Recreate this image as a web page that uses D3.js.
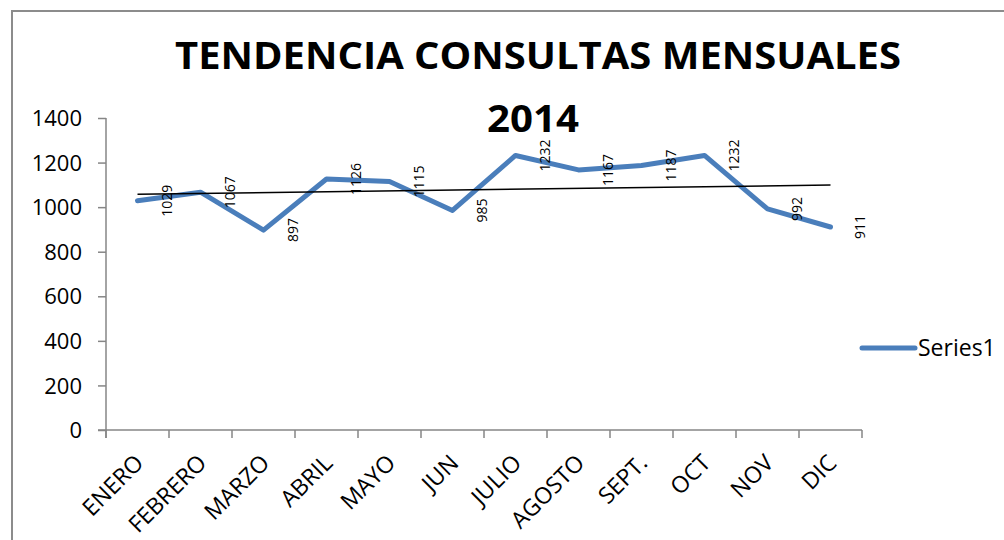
<!DOCTYPE html>
<html><head><meta charset="utf-8">
<script src="https://cdn.jsdelivr.net/npm/d3@7"></script>
<style>
html,body{margin:0;padding:0;background:#fff;}
svg{display:block;}
text{font-family:"Open Sans",sans-serif;fill:#000;}
</style></head>
<body>
<svg id="chart" width="1004" height="540"></svg>
<script>
const months = ["ENERO","FEBRERO","MARZO","ABRIL","MAYO","JUN","JULIO","AGOSTO","SEPT.","OCT","NOV","DIC"];
const consultas = [1029,1067,897,1126,1115,985,1232,1167,1187,1232,992,911];
const yTicks = [0,200,400,600,800,1000,1200,1400];
const seriesName = "Series1";
const titleLines = ["TENDENCIA CONSULTAS MENSUALES","2014"];

(function(){
const svg = d3.select("#chart");
// outer border
svg.append("rect").attr("x",12).attr("y",11).attr("width",1100).attr("height",600)
  .attr("fill","none").attr("stroke","#8c8c8c").attr("stroke-width",2);

const pLeft=106, pRight=862, pTop=118, pBottom=430;
const x = d3.scaleBand().domain(months).range([pLeft,pRight]).paddingInner(0).paddingOuter(0);
const y = d3.scaleLinear().domain([0,1400]).range([pBottom,pTop]);
const cx = m => x(m)+x.bandwidth()/2;
const axisColor="#868686";

// y axis
const ya = svg.append("g").attr("transform",`translate(${pLeft},0)`)
  .call(d3.axisLeft(y).tickValues(yTicks).tickSize(8).tickPadding(16).tickFormat(d3.format("d")));
ya.select(".domain").attr("stroke",axisColor).attr("stroke-width",1.5).attr("d",`M0,${pTop}V${pBottom+8}`);
ya.selectAll(".tick line").attr("stroke",axisColor).attr("stroke-width",1.5);
ya.selectAll(".tick text").style("font-size","22px").style("font-family","'Open Sans',sans-serif").attr("fill","#000").attr("dy","0.35em");

// x axis
const xa = svg.append("g").attr("transform",`translate(0,${pBottom})`);
xa.append("path").attr("d",`M${pLeft-8},0H${pRight}`).attr("stroke",axisColor).attr("stroke-width",1.5).attr("fill","none");
const xTickPos = months.map(m=>x(m)).concat([pRight]);
xa.selectAll("line.t").data(xTickPos).join("line").attr("class","t")
  .attr("x1",d=>d).attr("x2",d=>d).attr("y1",0).attr("y2",8)
  .attr("stroke",axisColor).attr("stroke-width",1.5);
xa.selectAll("text.xl").data(months).join("text").attr("class","xl")
  .attr("transform",m=>`translate(${cx(m)-4},${23}) rotate(-45)`)
  .attr("text-anchor","end").attr("dy","0.7em")
  .style("font-size","23px").text(d=>d);

// series line
const line = d3.line().x((d,i)=>cx(months[i])).y(d=>y(d));
svg.append("path").datum(consultas).attr("d",line)
  .attr("fill","none").attr("stroke","#4a7ebb").attr("stroke-width",5)
  .attr("stroke-linejoin","round").attr("stroke-linecap","round");

// linear trendline (least squares)
const n = consultas.length;
const xs = d3.range(1,n+1);
const mx = d3.mean(xs), my = d3.mean(consultas);
const slope = d3.sum(xs.map((v,i)=>(v-mx)*(consultas[i]-my)))/d3.sum(xs.map(v=>(v-mx)*(v-mx)));
const intercept = my - slope*mx;
svg.append("line")
  .attr("x1",cx(months[0])).attr("y1",y(intercept+slope*1))
  .attr("x2",cx(months[n-1])).attr("y2",y(intercept+slope*n))
  .attr("stroke","#000").attr("stroke-width",1.5);

// data labels (rotated)
svg.selectAll("text.dl").data(consultas).join("text").attr("class","dl")
  .attr("transform",(d,i)=>`translate(${cx(months[i])+30},${y(d)}) rotate(-90)`)
  .attr("text-anchor","middle").attr("dy","0.35em")
  .style("font-size","14px").text(d=>d);

// title
svg.append("text").attr("x",538).attr("y",69).attr("text-anchor","middle")
  .style("font-size","37px").style("font-weight","bold")
  .attr("textLength",726).attr("lengthAdjust","spacingAndGlyphs").text(titleLines[0]);
svg.append("text").attr("x",533).attr("y",132).attr("text-anchor","middle")
  .style("font-size","37px").style("font-weight","bold")
  .attr("textLength",92).attr("lengthAdjust","spacingAndGlyphs").text(titleLines[1]);

// legend
svg.append("line").attr("x1",862).attr("x2",915).attr("y1",348).attr("y2",348)
  .attr("stroke","#4a7ebb").attr("stroke-width",5).attr("stroke-linecap","round");
svg.append("text").attr("x",918).attr("y",348).attr("dy","0.35em")
  .style("font-size","23px").text(seriesName);
})();
</script>
</body></html>
